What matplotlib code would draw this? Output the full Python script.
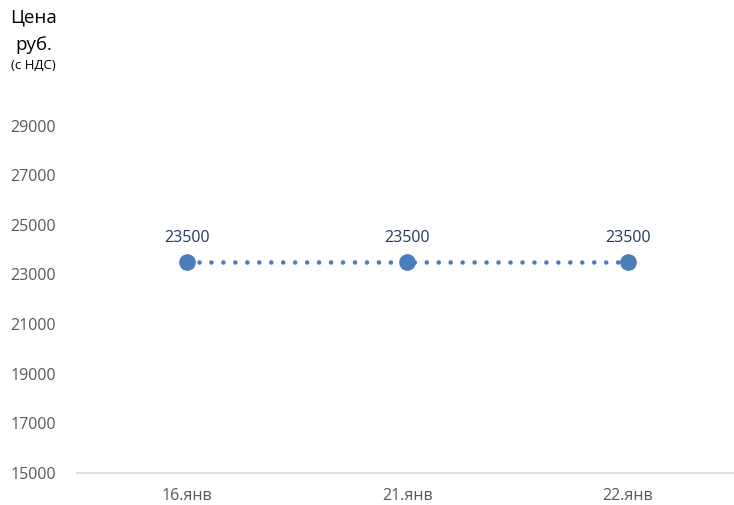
import matplotlib
matplotlib.use('Agg')
import matplotlib.pyplot as plt

# данные
dates = ['16.янв', '21.янв', '22.янв']
prices = [23500, 23500, 23500]
yticks = [15000, 17000, 19000, 21000, 23000, 25000, 27000, 29000]

plt.rcParams['font.family'] = ['Open Sans', 'DejaVu Sans']

fig = plt.figure(figsize=(7.34, 5.05), dpi=100)
ax = fig.add_axes([0.105, 0.0634, 0.9, 0.737])

x = [i + 0.5 for i in range(len(dates))]
blue = '#4A7EBB'
ax.plot(x, prices, color=blue, lw=3.3, linestyle=(0, (0.01, 2.6)),
        dash_capstyle='round', zorder=2)
ax.plot(x, prices, 'o', color=blue, markersize=11, zorder=3)

for xi, p in zip(x, prices):
    ax.text(xi, p + 650, str(p), ha='center', va='bottom',
            fontsize=11.5, color='#203864')

ax.set_xlim(0, 3)
ax.set_ylim(15000, 30000)
ax.set_xticks(x)
ax.set_xticklabels(dates)
ax.set_yticks(yticks)
ax.tick_params(length=0, labelsize=11.5, labelcolor='#595959', pad=11)
ax.tick_params(axis='y', pad=15)

for s in ['top', 'right', 'left']:
    ax.spines[s].set_visible(False)
ax.spines['bottom'].set_color('#d9d9d9')
ax.spines['bottom'].set_linewidth(1.2)

fig.text(0.046, 0.965, 'Цена', ha='center', va='center', fontsize=13.5, color='black')
fig.text(0.046, 0.91, 'руб.', ha='center', va='center', fontsize=13.5, color='black')
fig.text(0.046, 0.87, '(с НДС)', ha='center', va='center', fontsize=9.5, color='black')

fig.savefig('out.png', dpi=100)
